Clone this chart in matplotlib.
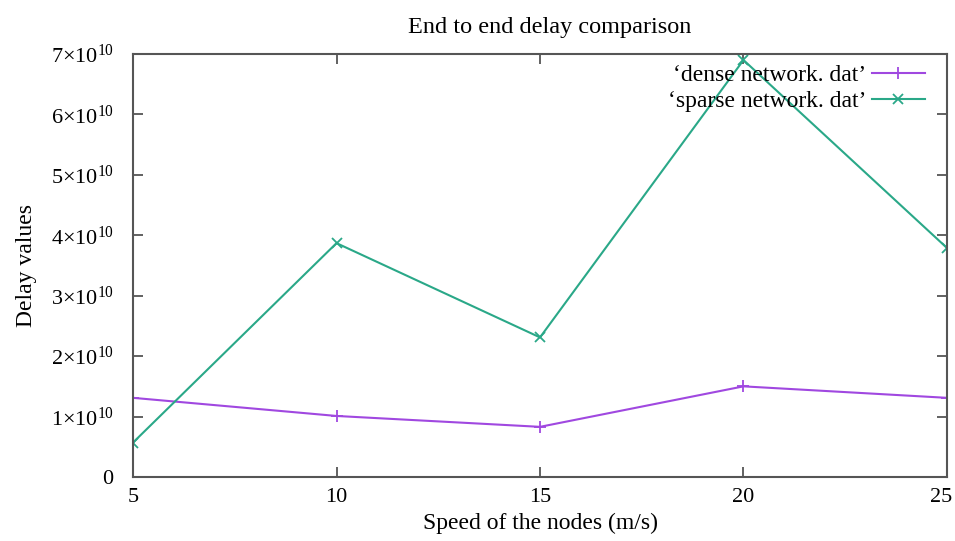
import matplotlib
matplotlib.use("Agg")
import matplotlib.pyplot as plt
import matplotlib.transforms as mtransforms
from matplotlib.ticker import FuncFormatter

# values
speeds = [5, 10, 15, 20, 25]
dense_delay = [1.31e10, 1.01e10, 0.83e10, 1.50e10, 1.31e10]
sparse_delay = [0.57e10, 3.87e10, 2.31e10, 6.90e10, 3.79e10]
y_ticks = [0, 1e10, 2e10, 3e10, 4e10, 5e10, 6e10, 7e10]

plt.rcParams['font.family'] = ['Liberation Serif', 'DejaVu Serif']
plt.rcParams['mathtext.fontset'] = 'custom'
plt.rcParams['mathtext.rm'] = 'Liberation Serif'
plt.rcParams['mathtext.it'] = 'Liberation Serif:italic'


def sci_fmt(v, pos):
    if v == 0:
        return '0'
    return r'$\mathrm{%d{\times}10^{10}}$' % round(v / 1e10)


fig = plt.figure(figsize=(9.55, 5.41), dpi=100)
ax = fig.add_axes([0.1393, 0.1183, 0.8523, 0.7819])

ax.plot(speeds, dense_delay, color='#a048e0', lw=1.5, marker='+', ms=9, mew=1.3,
        label='\u2018dense network. dat\u2019')
ax.plot(speeds, sparse_delay, color='#2aa888', lw=1.5, marker='x', ms=7, mew=1.3,
        label='\u2018sparse network. dat\u2019')

ax.set_xlim(5, 25)
ax.set_ylim(0, 7e10)
ax.set_xticks(speeds)
ax.set_yticks(y_ticks)
ax.yaxis.set_major_formatter(FuncFormatter(sci_fmt))

ax.tick_params(direction='in', length=7, width=1.3, color='#555555',
               top=True, right=True, labelsize=16)
ax.tick_params(axis='y', pad=14)
ax.tick_params(axis='x', pad=8)
for sp in ax.spines.values():
    sp.set_color('#555555')
    sp.set_linewidth(1.5)

# nudge the last x label so it stays inside the figure
last = ax.get_xticklabels()[-1]
last.set_transform(last.get_transform() +
                   mtransforms.ScaledTranslation(-6 / 100, 0, fig.dpi_scale_trans))

ax.set_title('End to end delay comparison', fontsize=17.5, pad=15, x=0.512)
ax.set_xlabel('Speed of the nodes (m/s)', fontsize=17, labelpad=4)
ax.set_ylabel('Delay values', fontsize=17, labelpad=10)

ax.legend(loc='upper right', bbox_to_anchor=(0.973, 0.975), frameon=False,
          markerfirst=False, fontsize=17, handlelength=2.25, handletextpad=0.25,
          borderaxespad=0, labelspacing=0.2, borderpad=0)

fig.savefig('out.png', dpi=100)
